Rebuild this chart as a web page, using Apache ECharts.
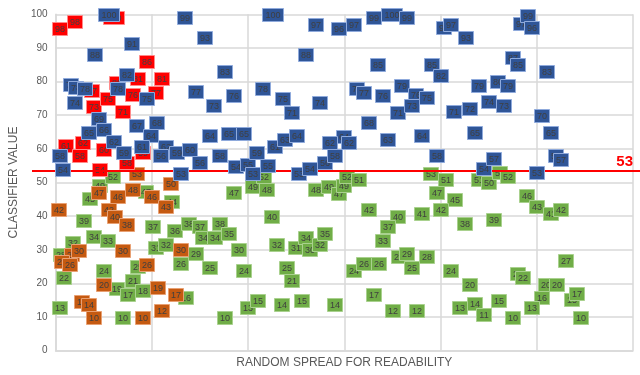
<!DOCTYPE html>
<html>
<head>
<meta charset="utf-8">
<script src="https://cdn.jsdelivr.net/npm/echarts@6/dist/echarts.min.js"></script>
<style>
html,body{margin:0;padding:0;background:#fff;}
#chart{width:640px;height:375px;}
</style>
</head>
<body>
<div id="chart"></div>
<script>
// Axis ranges and ticks
const xMin = 0, xMax = 6, xStep = 1;
const yMin = 0, yMax = 100, yStep = 10;
const yTitle = 'CLASSIFIER VALUE';
const xTitle = 'RANDOM SPREAD FOR READABILITY';
const threshold = 53.5;
const thresholdLabel = '53';

// Each point: [random spread x, plotted value y, label]
const greenPoints = [
[0.044,12.8,13],[0.085,21.8,22],[0.051,28.5,28],[0.173,32.3,32],[0.289,38.6,39],[0.350,45.2,45],[0.454,49.2,49],[0.595,51.9,52],
[0.391,33.8,34],[0.544,32.8,33],[0.495,23.7,24],[0.630,18.5,19],[0.799,20.8,21],[0.748,16.8,17],[0.901,17.8,18],[0.847,25.0,25],
[0.697,9.9,10],[0.939,47.4,47],[1.207,44.4,44],[1.003,36.9,37],[1.041,30.6,31],[1.143,31.7,32],[1.235,35.8,36],[1.385,37.7,38],
[1.497,36.9,37],[1.531,33.7,34],[1.650,33.7,34],[1.701,37.9,38],[1.796,34.9,35],[1.452,28.8,29],[1.293,25.8,26],[1.599,24.8,25],
[1.350,15.9,16],[1.898,30.0,30],[1.949,23.8,24],[1.752,9.9,10],[1.990,12.9,13],[2.099,14.8,15],[1.847,46.9,47],[2.048,48.8,49],
[2.160,51.8,52],[2.194,47.8,48],[2.245,39.9,40],[2.296,31.7,32],[2.398,24.8,25],[2.449,20.8,21],[2.347,13.6,14],[2.551,14.8,15],
[2.493,30.8,31],[2.595,33.7,34],[2.643,30.0,30],[2.745,31.7,32],[2.799,34.9,35],[2.697,47.8,48],[2.834,48.9,49],[2.942,46.8,47],
[2.993,49.0,49],[3.028,51.9,52],[3.146,50.8,51],[3.248,41.9,42],[3.548,39.9,40],[3.446,36.9,37],[3.395,32.9,33],[3.799,40.9,41],
[3.564,28.0,28],[3.650,28.8,29],[3.854,28.0,28],[3.697,24.8,25],[3.095,23.8,24],[3.197,25.8,26],[3.357,25.8,26],[3.299,16.8,17],
[3.503,11.9,12],[3.752,11.9,12],[2.901,13.8,14],[3.895,52.8,53],[4.048,50.8,51],[3.956,46.9,47],[4.150,44.9,45],[3.997,41.9,42],
[4.248,37.9,38],[4.099,23.8,24],[4.296,19.8,20],[4.201,12.9,13],[4.354,13.9,14],[4.446,10.9,11],[4.602,14.8,15],[4.752,9.9,10],
[4.398,51.0,51],[4.503,49.9,50],[4.612,53.1,53],[4.694,51.8,52],[4.548,38.9,39],[4.898,46.2,46],[5.000,42.9,43],[5.146,40.9,41],
[5.248,42.1,42],[5.299,26.8,27],[4.796,23.0,23],[4.847,21.8,22],[5.095,19.8,20],[5.204,19.8,20],[5.051,15.9,16],[4.949,12.9,13],
[5.357,15.1,15],[5.408,17.0,17],[5.452,9.9,10]
];

const orangePoints = [
[0.034,42.1,42],[0.442,46.9,47],[0.646,45.8,46],[0.799,47.8,48],[0.997,45.8,46],[1.140,42.8,43],[0.842,52.8,53],[1.191,49.8,50],
[0.554,41.9,42],[0.612,39.9,40],[0.742,37.6,38],[0.691,29.8,30],[0.170,28.5,28],[0.061,26.4,27],[0.238,29.7,30],[0.140,25.7,26],
[0.942,25.7,26],[0.500,19.8,20],[1.054,18.8,19],[0.272,14.5,15],[0.340,13.6,14],[0.398,9.9,10],[0.901,9.9,10],[1.097,11.9,12],
[1.248,16.8,17],[1.303,30.0,30]
];

const redPoints = [
[0.044,95.8,98],[0.197,98.0,98],[0.602,99.1,100],[0.942,85.9,86],[0.850,80.8,81],[1.105,80.8,81],[0.374,77.4,77],[0.630,79.6,80],
[0.391,72.7,73],[0.544,74.9,75],[0.799,76.2,76],[1.038,76.8,77],[0.697,71.0,71],[0.283,61.9,62],[0.102,61.0,61],[0.248,58.0,58],
[0.493,59.8,60],[0.738,55.8,58],[0.901,58.8,59],[0.452,53.9,54]
];

const bluePoints = [
[0.548,100.0,100],[0.405,88.1,88],[0.793,91.3,91],[0.742,82.0,82],[0.153,79.1,79],[0.204,78.2,78],[0.301,77.9,78],[0.197,73.9,74],
[0.646,77.9,78],[0.942,74.9,75],[0.442,68.9,69],[0.493,65.9,66],[0.340,64.9,65],[0.842,66.9,67],[1.046,67.9,68],[0.990,63.9,64],
[0.597,62.1,62],[0.701,59.0,59],[0.895,60.7,61],[0.038,58.0,58],[0.071,53.9,54],[1.143,60.7,62],[1.087,58.0,56],[1.258,58.8,59],
[1.395,59.8,60],[1.497,56.0,56],[1.699,58.1,58],[1.296,52.8,53],[1.599,64.1,64],[1.796,64.7,65],[1.949,64.7,65],[1.344,99.0,99],
[1.548,93.1,93],[1.752,83.1,83],[1.452,77.1,77],[1.643,72.9,73],[1.847,75.9,76],[2.153,77.9,78],[2.354,74.9,75],[2.449,70.9,71],
[2.255,100.0,100],[2.595,88.1,88],[1.870,54.7,54],[1.990,55.3,55],[2.092,58.8,59],[2.051,52.8,53],[2.204,55.1,55],[2.279,60.8,61],
[2.381,62.7,63],[2.500,63.9,64],[2.528,52.8,53],[2.638,54.3,54],[2.799,56.0,56],[2.901,58.0,58],[2.993,63.7,64],[2.844,61.9,62],
[3.048,61.9,62],[2.697,97.0,97],[2.942,95.7,96],[3.095,97.0,97],[3.299,99.0,99],[3.493,100.0,100],[3.650,99.0,99],[2.745,73.9,74],
[3.350,85.1,85],[3.130,77.9,78],[3.197,76.8,77],[3.395,75.9,76],[3.599,78.8,79],[3.742,76.2,76],[3.854,75.2,75],[3.548,70.9,71],
[3.697,72.9,73],[3.248,67.9,68],[3.446,62.9,63],[3.803,63.9,64],[3.956,58.0,58],[3.901,85.1,85],[3.997,81.8,82],[4.031,96.0,96],
[4.099,97.0,97],[4.255,93.1,93],[4.133,71.2,71],[4.296,71.9,72],[4.354,64.8,65],[4.398,78.9,79],[4.592,80.1,80],[4.701,78.9,79],
[4.500,74.2,74],[4.650,72.9,73],[4.745,87.1,87],[4.803,85.1,85],[4.830,97.3,97],[4.905,99.5,99],[4.949,96.0,96],[5.102,83.1,83],
[5.051,69.9,70],[5.146,64.8,65],[4.446,54.3,54],[4.548,57.0,57],[5.194,58.1,58],[5.248,56.8,57],[5.000,52.9,53]
];

const FONT = '"Liberation Sans", Arial, sans-serif';

function boxRenderer(fill, stroke) {
  return function (params, api) {
    const p = api.coord([api.value(0), api.value(1)]);
    const lab = api.value(2);
    const w = lab >= 100 ? 21 : 15;
    const h = 13;
    const x = Math.round(p[0] - w / 2) + 0.5;
    const y = Math.round(p[1] - h / 2) + 0.5;
    return {
      type: 'group',
      children: [
        { type: 'rect', shape: { x: x, y: y, width: w, height: h },
          style: { fill: fill, stroke: stroke, lineWidth: 1 } },
        { type: 'text',
          style: { text: String(lab), x: x + w / 2, y: y + h / 2 + 0.5,
                   align: 'center', verticalAlign: 'middle',
                   fill: '#3f3f3f', fontSize: 9, fontFamily: FONT } }
      ]
    };
  };
}

function boxSeries(name, data, fill, stroke, z) {
  return {
    name: name, type: 'custom', xAxisIndex: 0, yAxisIndex: 0, z: z,
    renderItem: boxRenderer(fill, stroke),
    encode: { x: 0, y: 1 },
    data: data
  };
}

const chart = echarts.init(document.getElementById('chart'), null, { renderer: 'canvas' });
chart.setOption({
  animation: false,
  backgroundColor: '#ffffff',
  textStyle: { fontFamily: FONT },
  grid: [
    { left: 45, right: 7, top: 14.3, bottom: 24.3 },
    { left: 32, right: 0, top: 14.3, bottom: 24.3 }
  ],
  xAxis: [
    { type: 'value', gridIndex: 0, min: xMin, max: xMax, interval: xStep,
      axisLabel: { show: false }, axisTick: { show: false },
      axisLine: { show: true, lineStyle: { color: '#d9d9d9', width: 1.5 } },
      splitLine: { show: true, lineStyle: { color: '#d9d9d9', width: 1.5 } },
      name: xTitle, nameLocation: 'middle', nameGap: 6,
      nameTextStyle: { color: '#595959', fontSize: 12, fontFamily: FONT, verticalAlign: 'top' } },
    { type: 'value', gridIndex: 1, min: 0, max: 1, show: false }
  ],
  yAxis: [
    { type: 'value', gridIndex: 0, min: yMin, max: yMax, interval: yStep,
      axisLabel: { color: '#595959', fontSize: 10, margin: 8, fontFamily: FONT },
      axisTick: { show: false },
      axisLine: { show: true, lineStyle: { color: '#d9d9d9', width: 1.5 } },
      splitLine: { show: true, lineStyle: { color: '#d9d9d9', width: 1.5 } },
      name: yTitle, nameLocation: 'middle', nameGap: 32,
      nameTextStyle: { color: '#595959', fontSize: 12, fontFamily: FONT } },
    { type: 'value', gridIndex: 1, min: yMin, max: yMax, show: false }
  ],
  series: [
    boxSeries('green', greenPoints, '#70ad47', '#a9d18e', 2),
    boxSeries('orange', orangePoints, '#c55a11', '#e8a073', 3),
    boxSeries('red', redPoints, '#ff0000', '#ff8a8a', 4),
    boxSeries('blue', bluePoints, '#2f5597', '#8faadc', 5),
    { name: 'threshold', type: 'line', xAxisIndex: 1, yAxisIndex: 1, z: 10,
      data: [], symbol: 'none',
      markLine: {
        silent: true, symbol: ['none', 'none'], animation: false,
        lineStyle: { color: '#ff0000', width: 2, type: 'solid' },
        label: { show: true, position: 'insideEndTop', formatter: thresholdLabel,
                 color: '#ff0000', fontWeight: 'bold', fontSize: 15, fontFamily: FONT,
                 distance: [7, 1] },
        data: [{ yAxis: threshold }]
      } }
  ]
});
</script>
</body>
</html>
